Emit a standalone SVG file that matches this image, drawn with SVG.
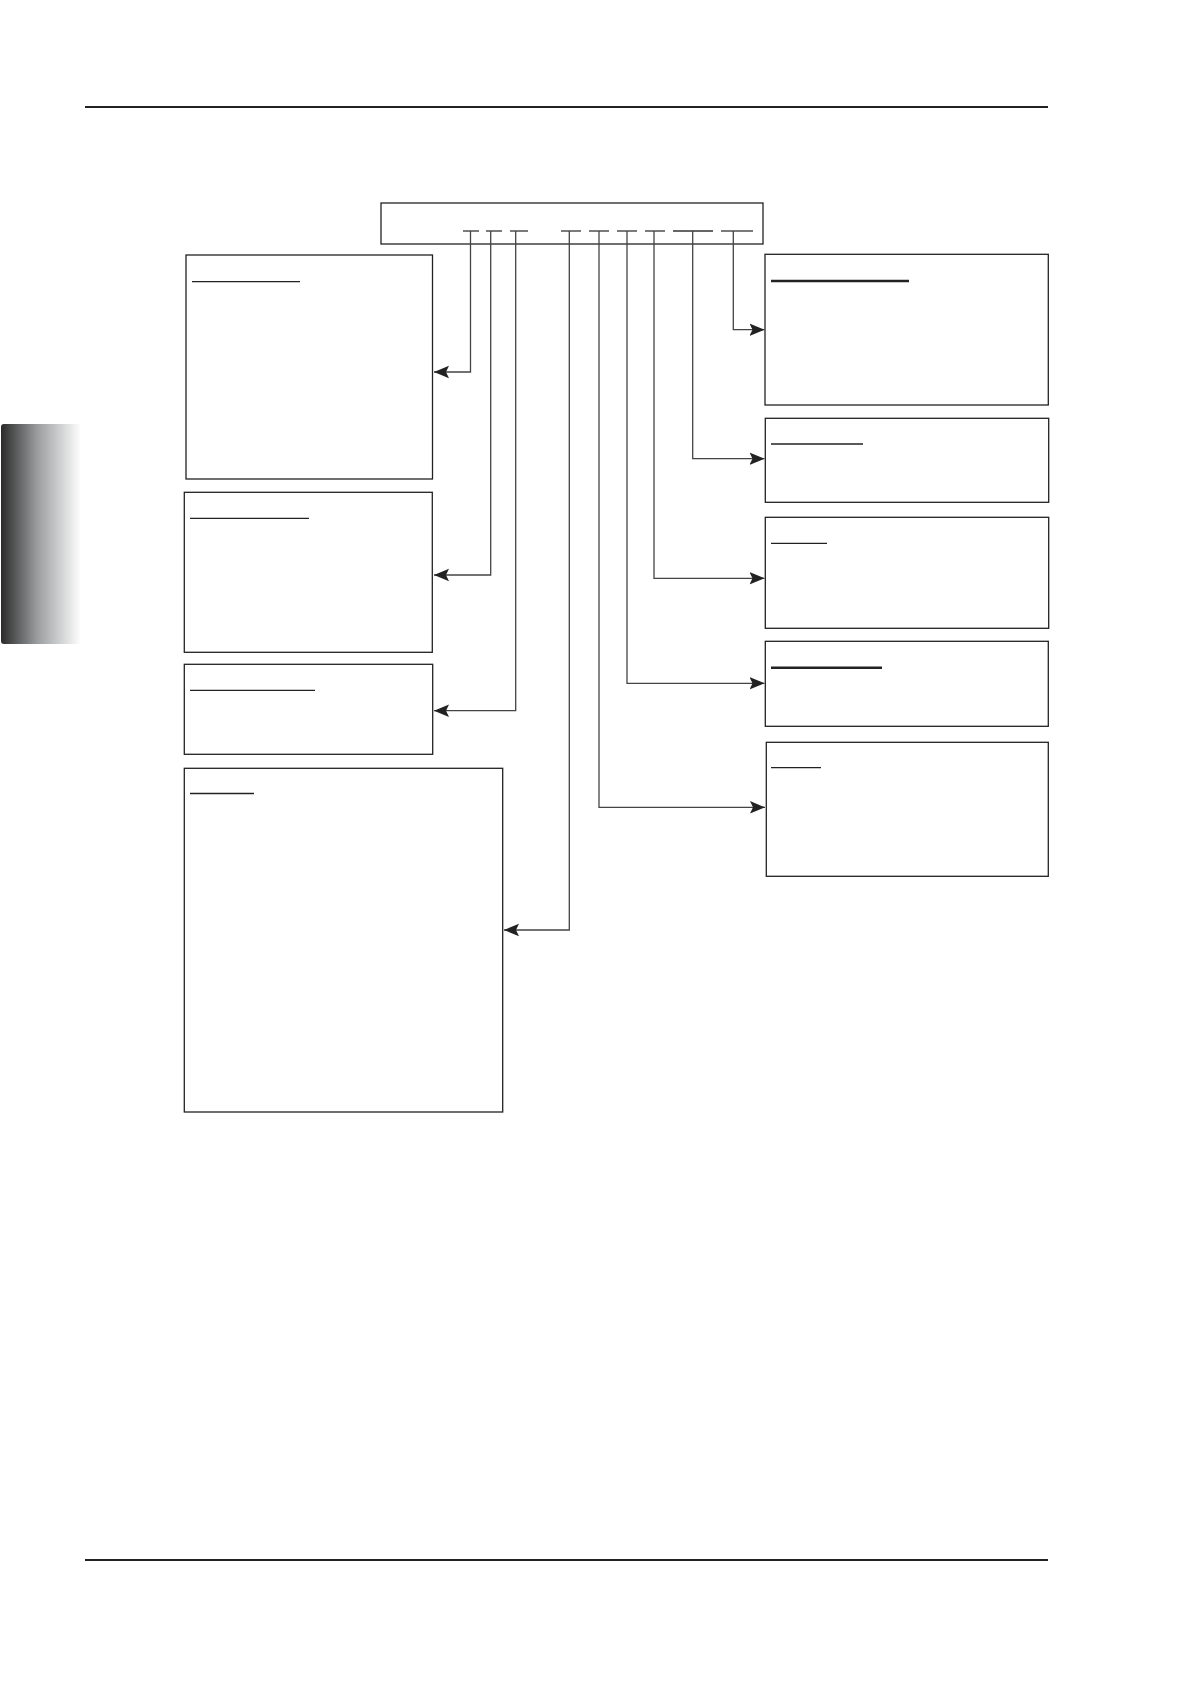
<svg xmlns="http://www.w3.org/2000/svg" width="1191" height="1684" viewBox="0 0 1191 1684">
<defs>
<linearGradient id="tab" x1="0" y1="0" x2="1" y2="0">
<stop offset="0" stop-color="#2a2a2a"/>
<stop offset="0.45" stop-color="#9a9c9e"/>
<stop offset="1" stop-color="#ffffff"/>
</linearGradient>
<marker id="arr" markerUnits="userSpaceOnUse" markerWidth="16" markerHeight="14" viewBox="0 0 16 14" refX="15" refY="7" orient="auto">
<path d="M0,0.8 L15,7 L0,13.2 L3,7 Z" fill="#222"/>
</marker>
<style>
.box{fill:none;stroke:#222;stroke-width:1.3}
.ul{stroke:#222;stroke-width:1.3}
.ulb{stroke:#222;stroke-width:2.6}
.tick{stroke:#333;stroke-width:1.3}
.con{fill:none;stroke:#444;stroke-width:1.3;marker-end:url(#arr)}
.rule{stroke:#222;stroke-width:2.2}
</style>
</defs>
<rect width="1191" height="1684" fill="#fff"/>
<line class="rule" x1="85" y1="107" x2="1048" y2="107"/>
<line class="rule" x1="85" y1="1560" x2="1048" y2="1560"/>
<rect x="1" y="424" width="80" height="220" rx="3" fill="url(#tab)"/>

<g id="top">
<rect class="box" x="381" y="203" width="382" height="41"/>
<line class="tick" x1="463" y1="231" x2="479" y2="231"/>
<line class="tick" x1="486" y1="231" x2="502" y2="231"/>
<line class="tick" x1="510" y1="231" x2="528" y2="231"/>
<line class="tick" x1="561" y1="231" x2="581" y2="231"/>
<line class="tick" x1="589" y1="231" x2="609" y2="231"/>
<line class="tick" x1="617" y1="231" x2="637" y2="231"/>
<line class="tick" x1="645" y1="231" x2="665" y2="231"/>
<line class="tick" x1="673" y1="231" x2="713" y2="231"/>
<line class="tick" x1="721" y1="231" x2="753" y2="231"/>
</g>

<g id="box1">
<rect class="box" x="186" y="255" width="246.5" height="224"/>
<line class="ul" x1="192" y1="281.7" x2="300" y2="281.7"/>
</g>
<g id="box2">
<rect class="box" x="184.3" y="492.3" width="248" height="160"/>
<line class="ul" x1="190" y1="518.3" x2="309" y2="518.3"/>
</g>
<g id="box3">
<rect class="box" x="184.3" y="664.3" width="248.4" height="90"/>
<line class="ul" x1="190" y1="690.3" x2="315" y2="690.3"/>
</g>
<g id="box4">
<rect class="box" x="184.3" y="768.3" width="318.4" height="343.7"/>
<line class="ul" x1="190" y1="793.5" x2="254" y2="793.5"/>
</g>
<g id="boxA">
<rect class="box" x="765" y="254.3" width="283.3" height="150.7"/>
<line class="ulb" x1="771" y1="281" x2="909" y2="281"/>
</g>
<g id="boxB">
<rect class="box" x="765.3" y="418.3" width="283.4" height="84"/>
<line class="ul" x1="771" y1="444" x2="863" y2="444"/>
</g>
<g id="boxC">
<rect class="box" x="765.3" y="517.3" width="283.4" height="111"/>
<line class="ul" x1="771" y1="543.3" x2="827" y2="543.3"/>
</g>
<g id="boxD">
<rect class="box" x="765.3" y="641.3" width="283" height="85"/>
<line class="ulb" x1="771" y1="667.7" x2="882" y2="667.7"/>
</g>
<g id="boxE">
<rect class="box" x="766.3" y="742.3" width="282" height="134"/>
<line class="ul" x1="771" y1="767.7" x2="821" y2="767.7"/>
</g>

<g id="connectors">
<path class="con" d="M470.5,231 V372 H434"/>
<path class="con" d="M490.7,231 V575 H434"/>
<path class="con" d="M515.7,231 V710.7 H434"/>
<path class="con" d="M569.3,231 V930 H504"/>
<path class="con" d="M599,231 V807.3 H765"/>
<path class="con" d="M627,231 V683.3 H764.5"/>
<path class="con" d="M654,231 V578.3 H764.5"/>
<path class="con" d="M692.7,231 V458.7 H764.5"/>
<path class="con" d="M733.3,231 V329.7 H764.5"/>
</g>
</svg>
